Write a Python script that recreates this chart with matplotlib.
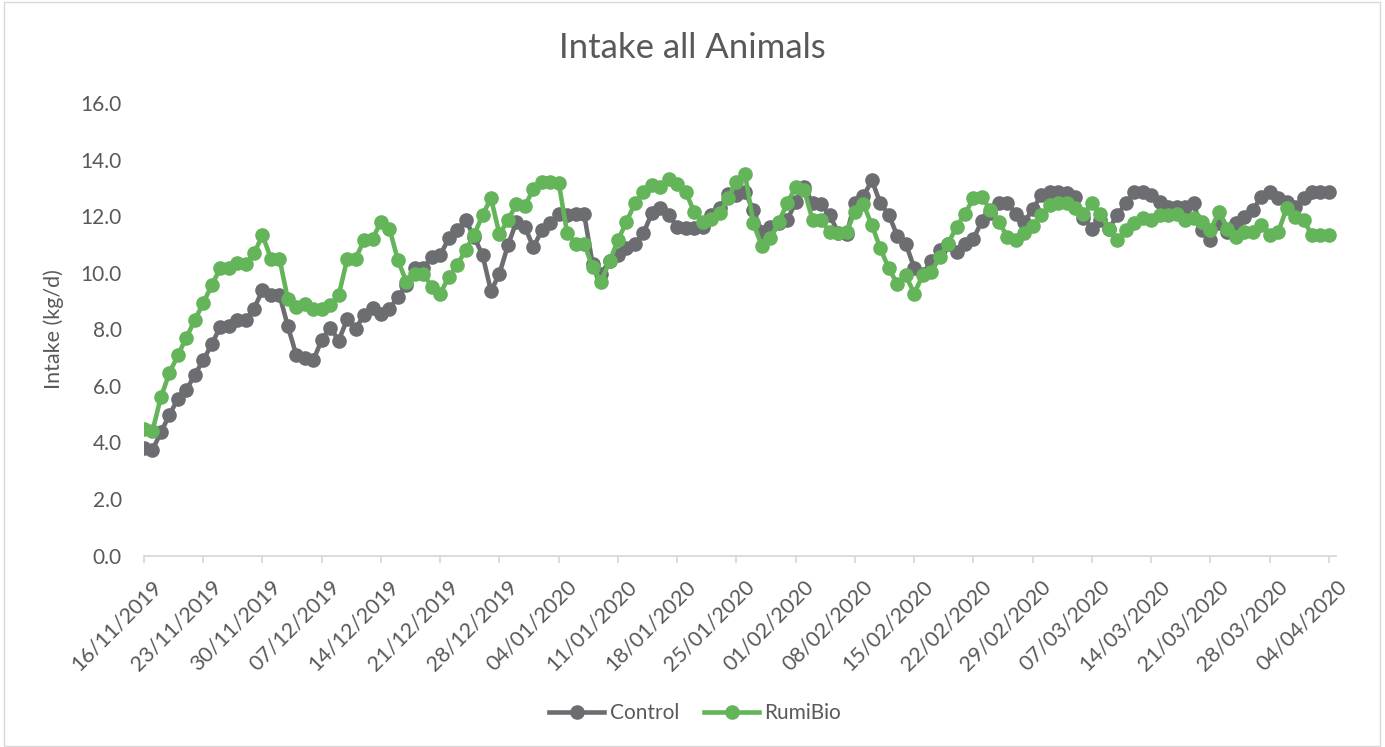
import numpy as np
import pandas as pd
import matplotlib
matplotlib.use("Agg")
from matplotlib import pyplot as plt
import matplotlib.dates as mdates
import matplotlib.transforms as mtransforms
from matplotlib.patches import Rectangle

### daily intake, 16/11/2019 .. 04/04/2020
dates = pd.date_range("2019-11-16", "2020-04-04", freq="D")

control = [3.80, 3.72, 4.37, 4.96, 5.55, 5.84, 6.40, 6.90, 7.47, 8.08,
           8.10, 8.34, 8.33, 8.73, 9.38, 9.20, 9.22, 8.10, 7.08, 7.00,
           6.90, 7.63, 8.06, 7.60, 8.35, 8.02, 8.50, 8.75, 8.55, 8.73,
           9.14, 9.55, 10.15, 10.15, 10.56, 10.62, 11.21, 11.50, 11.86, 11.27,
           10.62, 9.35, 9.97, 10.97, 11.80, 11.62, 10.90, 11.50, 11.74, 12.08,
           12.05, 12.08, 12.08, 10.30, 9.95, 10.42, 10.64, 10.86, 11.03, 11.39,
           12.10, 12.27, 12.04, 11.62, 11.58, 11.58, 11.62, 12.04, 12.27, 12.80,
           12.74, 12.86, 12.21, 11.45, 11.62, 11.74, 11.86, 12.50, 13.04, 12.45,
           12.42, 12.05, 11.42, 11.36, 12.48, 12.70, 13.27, 12.45, 12.05, 11.30,
           11.03, 10.17, 9.95, 10.40, 10.80, 11.00, 10.72, 11.00, 11.20, 11.83,
           12.10, 12.48, 12.48, 12.09, 11.78, 12.24, 12.74, 12.86, 12.86, 12.82,
           12.68, 11.95, 11.56, 11.85, 11.55, 12.04, 12.45, 12.86, 12.86, 12.74,
           12.50, 12.33, 12.33, 12.33, 12.45, 11.50, 11.15, 11.74, 11.44, 11.74,
           11.98, 12.21, 12.68, 12.86, 12.63, 12.50, 12.33, 12.63, 12.86, 12.86,
           12.86]

rumibio = [4.48, 4.40, 5.60, 6.45, 7.08, 7.70, 8.32, 8.93, 9.55, 10.15,
           10.15, 10.35, 10.30, 10.68, 11.33, 10.50, 10.50, 9.06, 8.77, 8.90,
           8.70, 8.70, 8.85, 9.20, 10.47, 10.50, 11.15, 11.20, 11.80, 11.56,
           10.44, 9.68, 9.97, 9.97, 9.50, 9.26, 9.85, 10.27, 10.80, 11.33,
           12.04, 12.63, 11.36, 11.86, 12.42, 12.36, 12.95, 13.20, 13.20, 13.18,
           11.39, 11.03, 11.03, 10.20, 9.68, 10.40, 11.15, 11.80, 12.45, 12.86,
           13.10, 13.04, 13.30, 13.15, 12.86, 12.15, 11.80, 11.90, 12.10, 12.63,
           13.21, 13.50, 11.74, 10.94, 11.21, 11.80, 12.45, 13.04, 12.92, 11.86,
           11.86, 11.45, 11.39, 11.45, 12.15, 12.42, 11.68, 10.86, 10.15, 9.60,
           9.91, 9.26, 9.91, 10.03, 10.56, 11.03, 11.62, 12.09, 12.63, 12.68,
           12.21, 11.80, 11.27, 11.15, 11.39, 11.66, 12.04, 12.39, 12.45, 12.45,
           12.27, 12.06, 12.45, 12.06, 11.56, 11.15, 11.50, 11.74, 11.92, 11.86,
           12.04, 12.04, 12.09, 11.86, 11.92, 11.80, 11.50, 12.15, 11.56, 11.27,
           11.44, 11.44, 11.68, 11.33, 11.44, 12.27, 11.98, 11.86, 11.33, 11.33,
           11.33]

series_names = ["Control", "RumiBio"]
series_colors = ["#6C6D71", "#64B45A"]
yticks = [0, 2, 4, 6, 8, 10, 12, 14, 16]
title = "Intake all Animals"
ylabel = "Intake (kg/d)"

text_col = "#595959"
grid_col = "#D9D9D9"
plt.rcParams["font.family"] = ["Lato", "DejaVu Sans"]

W, H = 1385, 747
fig = plt.figure(figsize=(W / 100, H / 100), dpi=100)
ax = fig.add_axes([144 / W, 1 - 555.5 / H, (1336 - 144) / W, (555.5 - 103) / H])

for vals, name, col in zip([control, rumibio], series_names, series_colors):
    ax.plot(dates, vals, color=col, lw=3.3, marker="o", ms=9.5,
            markeredgecolor=col, label=name)

ax.set_ylim(0, 16)
ax.set_xlim(dates[0], dates[-1] + pd.Timedelta(hours=20))
ax.set_yticks(yticks)
ax.set_yticklabels([f"{v:.1f}" for v in yticks])
ax.set_xticks(dates[::7])
ax.xaxis.set_major_formatter(mdates.DateFormatter("%d/%m/%Y"))

for s in ["left", "right", "top"]:
    ax.spines[s].set_visible(False)
ax.spines["bottom"].set_color(grid_col)
ax.spines["bottom"].set_linewidth(1.3)
ax.tick_params(axis="y", length=0, pad=16, labelsize=15, labelcolor=text_col)
ax.tick_params(axis="x", direction="out", length=5, width=1.3, color=grid_col,
               pad=10, labelsize=15.5, labelcolor=text_col)
plt.setp(ax.get_xticklabels(), rotation=45, ha="right", rotation_mode="anchor")
offset = mtransforms.ScaledTranslation(8 / 100, 0, fig.dpi_scale_trans)
for lab in ax.get_xticklabels():
    lab.set_transform(lab.get_transform() + offset)

ax.set_ylabel(ylabel, fontsize=15.5, color=text_col, labelpad=12)
fig.text(0.5, 1 - 48 / H, title, ha="center", va="center", fontsize=25, color=text_col)

fig.legend(loc="center", bbox_to_anchor=(0.502, 1 - 713 / H), ncol=2, frameon=False,
           fontsize=15, handlelength=2.65, handletextpad=0.25, columnspacing=1.2,
           labelcolor=text_col)

fig.patches.append(Rectangle((4 / W, 1 / H), (1380 - 4) / W, (745 - 1) / H,
                             transform=fig.transFigure, fill=False,
                             edgecolor=grid_col, lw=1))

fig.savefig("out.png", dpi=100)
